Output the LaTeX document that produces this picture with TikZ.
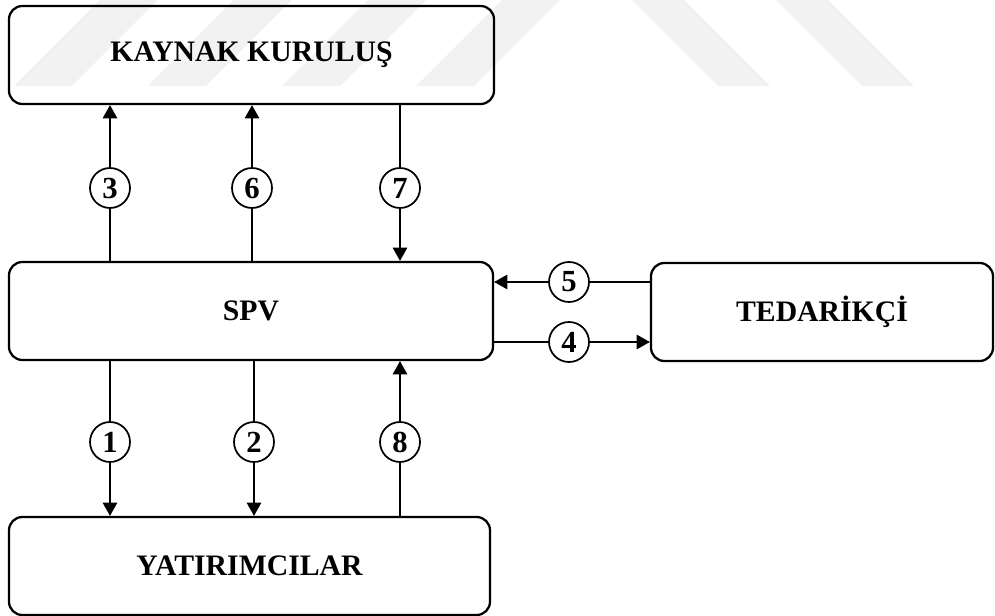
\documentclass[tikz,border=0pt]{standalone}
\usepackage{fontspec}
\setmainfont{Liberation Serif}
\usetikzlibrary{arrows.meta}
\begin{document}
\begin{tikzpicture}[x=0.75pt,y=-0.75pt,
  party/.style={draw,line width=1.7pt,rounded corners=10pt,inner sep=0pt,
    font=\fontsize{22.3}{26}\selectfont\bfseries},
  num/.style={draw,circle,line width=1.3pt,minimum size=30pt,inner sep=0pt,
    font=\fontsize{23}{26}\selectfont\bfseries},
  flow/.style={line width=0.9pt,-{Triangle[width=11pt,length=10pt]}},
  wm/.style={fill=black!5}]
\useasboundingbox (0,0) rectangle (995,616);

% faint background emblem stripes
\foreach \bx in {14,148,282,416}
  \fill[wm] (\bx,86) -- ({\bx+58},86) -- ({\bx+144},0) -- ({\bx+86},0) -- cycle;
\foreach \tx in {632,776}
  \fill[wm] (\tx,0) -- ({\tx+52},0) -- ({\tx+138},86) -- ({\tx+86},86) -- cycle;

% parties
\node[party,minimum width=363.75pt,minimum height=73.5pt] (kk) at (251.5,55) {KAYNAK KURULUŞ};
\node[party,minimum width=363pt,minimum height=73.5pt] (spv) at (251,311) {SPV};
\node[party,minimum width=360.75pt,minimum height=73.5pt] (yat) at (249.5,566) {YATIRIMCILAR};
\node[party,minimum width=256.5pt,minimum height=73.5pt] (ted) at (822,312) {TEDARİKÇİ};

% numbered flows
\node[num] (c3) at (110,188) {3};
\node[num] (c6) at (252,188) {6};
\node[num] (c7) at (400,188) {7};
\node[num] (c1) at (110,442) {1};
\node[num] (c2) at (254,442) {2};
\node[num] (c8) at (400,442) {8};
\node[num] (c5) at (569,282) {5};
\node[num] (c4) at (569,342) {4};

\draw[flow] (spv.north -| c3) -- (c3) -- (kk.south -| c3);
\draw[flow] (spv.north -| c6) -- (c6) -- (kk.south -| c6);
\draw[flow] (kk.south -| c7) -- (c7) -- (spv.north -| c7);
\draw[flow] (spv.south -| c1) -- (c1) -- (yat.north -| c1);
\draw[flow] (spv.south -| c2) -- (c2) -- (yat.north -| c2);
\draw[flow] (yat.north -| c8) -- (c8) -- (spv.south -| c8);
\draw[flow] (ted.west |- c5) -- (c5) -- (spv.east |- c5);
\draw[flow] (spv.east |- c4) -- (c4) -- (ted.west |- c4);
\end{tikzpicture}
\end{document}
